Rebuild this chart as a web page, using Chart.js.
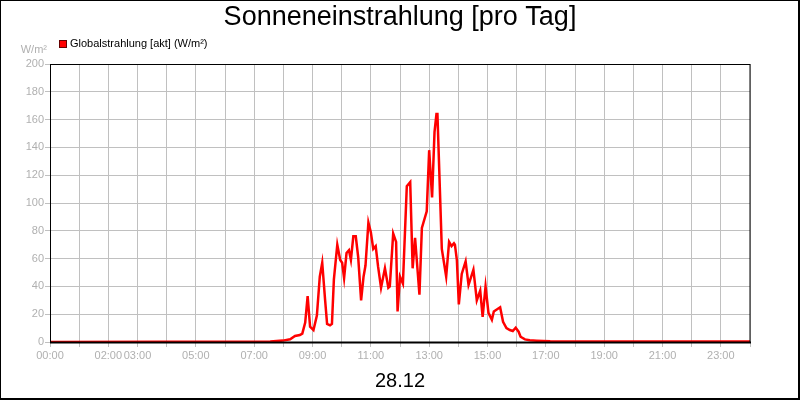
<!DOCTYPE html>
<html lang="de">
<head>
<meta charset="utf-8">
<title>Sonneneinstrahlung [pro Tag]</title>
<script src="https://cdn.jsdelivr.net/npm/chart.js@4.4.1/dist/chart.umd.min.js"></script>
<style>
    html, body { margin: 0; padding: 0; background: #fff; }
    #chart { display: block; }
</style>
</head>
<body>
<canvas id="chart" width="800" height="400"></canvas>
<script>
// Daten
const TITLE = 'Sonneneinstrahlung [pro Tag]';
const DAY_LABEL = '28.12';
const UNIT = 'W/m²';
const SERIES_LABEL = 'Globalstrahlung [akt] (W/m²)';

const TIMES = [
    '00:00', '07:33', '07:59', '08:14', '08:24', '08:34', '08:39', '08:45', '08:50', '08:55',
    '09:02', '09:09', '09:15', '09:20', '09:26', '09:30', '09:36', '09:40', '09:44', '09:51',
    '09:57', '10:01', '10:05', '10:10', '10:15', '10:19', '10:24', '10:29', '10:34', '10:40',
    '10:45', '10:49', '10:55', '11:00', '11:05', '11:10', '11:15', '11:21', '11:29', '11:36',
    '11:39', '11:46', '11:52', '11:55', '12:00', '12:06', '12:14', '12:21', '12:26', '12:31',
    '12:40', '12:45', '12:55', '13:00', '13:06', '13:11', '13:15', '13:17', '13:26', '13:35',
    '13:41', '13:46', '13:51', '13:53', '13:57', '14:01', '14:07', '14:15', '14:21', '14:31',
    '14:38', '14:45', '14:50', '14:56', '15:02', '15:09', '15:13', '15:26', '15:32', '15:39',
    '15:46', '15:52', '15:58', '16:04', '16:08', '16:17', '16:27', '16:41', '17:09', '24:00'
];
const VALUES = [
    0, 0.3, 1, 2, 4.3, 5, 6, 14, 33, 11,
    8.6, 19, 47, 57, 30, 13, 12, 13, 45, 70,
    59, 57, 46, 64, 66, 59, 76, 76, 61, 30,
    47, 55, 86, 79, 67, 69, 54, 39, 53, 39,
    40, 78, 72, 22, 47, 42, 112, 115, 53, 75,
    34, 82, 94, 138, 104, 151, 164, 164, 67, 47,
    72, 69, 71, 70, 59, 27, 49, 58, 41, 52,
    30, 37, 18, 40, 21, 16, 22, 25, 14.5, 10,
    8.6, 7.9, 10.3, 7.4, 3.8, 1.9, 1.2, 0.9, 0.5, 0.3
];
// Stunden mit Beschriftung auf der x-Achse
const LABELED_HOURS = [0, 2, 3, 5, 7, 9, 11, 13, 15, 17, 19, 21, 23];
const Y_MAX = 200;
const Y_STEP = 20;

const FONT = '"Liberation Sans", Arial, sans-serif';
const GRID_COLOR = '#c0c0c0';
const TICK_TEXT = '#b0b0b0';

function toMinutes(t) {
    const parts = t.split(':');
    return parseInt(parts[0], 10) * 60 + parseInt(parts[1], 10);
}

function pad2(n) {
    return (n < 10 ? '0' : '') + n;
}

// Titel, Legende, Einheit, Datum und Rahmen zeichnen
const decorPlugin = {
    id: 'decor',
    afterDraw(chart) {
        const ctx = chart.ctx;
        const a = chart.chartArea;
        const w = chart.width;
        const h = chart.height;
        ctx.save();

        // Rahmen um den Plotbereich
        ctx.strokeStyle = '#000';
        ctx.lineWidth = 1;
        ctx.strokeRect(a.left + 0.5, a.top + 0.5, a.right - a.left - 0.5, a.bottom - a.top);
        ctx.lineWidth = 2;
        ctx.beginPath();
        ctx.moveTo(a.left, a.bottom + 0.5);
        ctx.lineTo(a.right + 1, a.bottom + 0.5);
        ctx.stroke();

        // Rahmen um das ganze Bild
        ctx.lineWidth = 1;
        ctx.strokeRect(0.5, 0.5, w - 1.5, h - 1.5);
        ctx.lineWidth = 2;
        ctx.beginPath();
        ctx.moveTo(w - 1, 0);
        ctx.lineTo(w - 1, h - 1);
        ctx.lineTo(0, h - 1);
        ctx.stroke();

        // Titel
        ctx.fillStyle = '#000';
        ctx.font = '27px ' + FONT;
        ctx.textAlign = 'center';
        ctx.textBaseline = 'middle';
        ctx.fillText(TITLE, w / 2, 18);

        // Legende
        const color = chart.data.datasets[0].borderColor;
        ctx.fillStyle = color;
        ctx.fillRect(59, 40, 8, 8);
        ctx.strokeStyle = '#600';
        ctx.lineWidth = 1;
        ctx.strokeRect(59.5, 40.5, 7, 7);
        ctx.fillStyle = '#000';
        ctx.font = '11px ' + FONT;
        ctx.textAlign = 'left';
        ctx.fillText(chart.data.datasets[0].label, 70, 44);

        // Einheit
        ctx.fillStyle = TICK_TEXT;
        ctx.textAlign = 'right';
        ctx.fillText(UNIT, a.left - 3, 50);

        // Datum
        ctx.fillStyle = '#000';
        ctx.font = '20px ' + FONT;
        ctx.textAlign = 'center';
        ctx.fillText(DAY_LABEL, w / 2, 381);

        ctx.restore();
    }
};

const points = TIMES.map((t, i) => ({ x: toMinutes(t), y: VALUES[i] }));

new Chart(document.getElementById('chart'), {
    type: 'line',
    data: {
        datasets: [{
            label: SERIES_LABEL,
            data: points,
            borderColor: '#ff0000',
            backgroundColor: '#ff0000',
            borderWidth: 2.5,
            pointRadius: 0,
            tension: 0,
            fill: false
        }]
    },
    options: {
        responsive: false,
        animation: false,
        devicePixelRatio: 1,
        layout: {
            padding: { top: 64, right: 50, bottom: 38, left: 0 }
        },
        plugins: {
            legend: { display: false },
            title: { display: false },
            tooltip: { enabled: false }
        },
        scales: {
            x: {
                type: 'linear',
                min: 0,
                max: 1440,
                border: { display: false },
                grid: {
                    color: GRID_COLOR,
                    tickColor: GRID_COLOR,
                    tickLength: 5,
                    lineWidth: 1
                },
                ticks: {
                    stepSize: 60,
                    autoSkip: false,
                    maxRotation: 0,
                    padding: 2,
                    color: TICK_TEXT,
                    font: { family: FONT, size: 11 },
                    callback: function(value) {
                        const hour = Math.round(value / 60);
                        return LABELED_HOURS.includes(hour) ? pad2(hour) + ':00' : '';
                    }
                },
                afterFit: function(scale) {
                    scale.height = 20;
                }
            },
            y: {
                min: 0,
                max: Y_MAX,
                border: { display: false },
                grid: {
                    color: GRID_COLOR,
                    tickColor: GRID_COLOR,
                    tickLength: 5,
                    lineWidth: 1
                },
                ticks: {
                    stepSize: Y_STEP,
                    padding: 1,
                    color: TICK_TEXT,
                    font: { family: FONT, size: 11 }
                },
                afterFit: function(scale) {
                    scale.width = 50;
                }
            }
        }
    },
    plugins: [decorPlugin]
});
</script>
</body>
</html>
